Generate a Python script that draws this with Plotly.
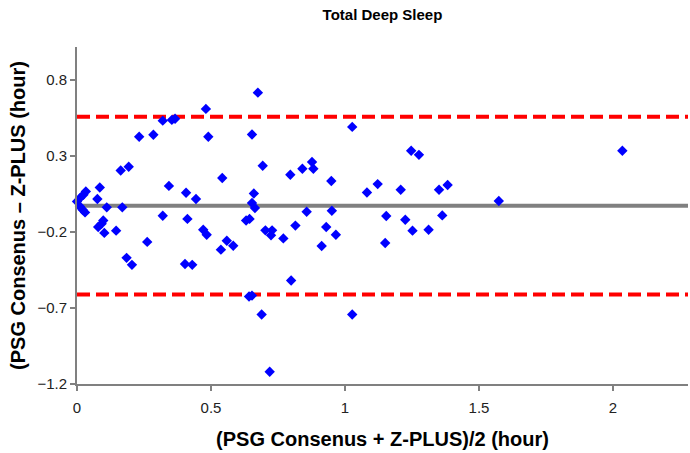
import plotly.graph_objects as go

# Bland-Altman data: mean of methods (x) and difference (y), hours
mean_vals = [0.000, 0.011, 0.024, 0.033, 0.011, 0.021, 0.030,
             0.085, 0.076, 0.111, 0.169, 0.163, 0.193, 0.232, 0.285,
             0.320, 0.354, 0.366, 0.481, 0.490, 0.542, 0.343, 0.407,
             0.444, 0.320, 0.412, 0.079, 0.092, 0.098, 0.102, 0.146,
             0.262, 0.185, 0.205, 0.403, 0.430, 0.471, 0.484, 0.559,
             0.537, 0.583, 0.631, 0.644, 0.642, 0.653,
             0.675, 0.653, 1.027, 0.693, 0.796, 0.841, 0.877, 0.882,
             0.949, 1.247, 1.276, 0.660, 0.653, 0.664, 1.082, 1.122,
             1.208, 0.857, 0.951, 1.154, 1.225, 1.252, 0.703, 0.728,
             0.724, 0.770, 0.815, 0.930, 0.966, 0.913, 1.150, 0.799,
             0.689, 1.027, 0.719,
             2.035, 1.351, 1.383, 1.574, 1.363, 1.312]
diff_vals = [0.000, 0.022, 0.044, 0.066, -0.033, -0.054, -0.072,
             0.092, 0.016, -0.039, -0.039, 0.203, 0.228, 0.425, 0.438,
             0.531, 0.536, 0.543, 0.608, 0.425, 0.154, 0.102, 0.057,
             0.016, -0.094, -0.115, -0.168, -0.146, -0.125, -0.207, -0.192,
             -0.266, -0.371, -0.417, -0.411, -0.417, -0.186, -0.219, -0.258,
             -0.317, -0.291, -0.125, -0.115, -0.625, -0.619,
             0.715, 0.440, 0.490, 0.234, 0.175, 0.215, 0.259, 0.215,
             0.134, 0.333, 0.306, 0.052, -0.010, -0.043, 0.059, 0.114,
             0.077, -0.068, -0.061, -0.096, -0.120, -0.192, -0.190, -0.190,
             -0.223, -0.243, -0.159, -0.168, -0.219, -0.293, -0.273, -0.520,
             -0.743, -0.743, -1.119,
             0.333, 0.077, 0.108, 0.003, -0.092, -0.186]

mean_diff = -0.028
loa_upper = 0.556
loa_lower = -0.612

x_ticks = [0, 0.5, 1, 1.5, 2]
x_tick_labels = ["0", "0.5", "1", "1.5", "2"]
y_ticks = [0.8, 0.3, -0.2, -0.7, -1.2]
y_tick_labels = ["0.8", "0.3", "\u22120.2", "\u22120.7", "\u22121.2"]

fig = go.Figure()
fig.add_trace(go.Scatter(
    x=mean_vals, y=diff_vals, mode="markers",
    marker=dict(symbol="diamond", size=8, color="#0000FF", line=dict(width=0)),
    showlegend=False, cliponaxis=False))

fig.add_shape(type="line", xref="paper", yref="y", x0=0, x1=1,
              y0=mean_diff, y1=mean_diff, line=dict(color="#808080", width=4),
              layer="below")
for v in (loa_upper, loa_lower):
    fig.add_shape(type="line", xref="paper", yref="y", x0=0, x1=1,
                  y0=v, y1=v, line=dict(color="#FF0000", width=4, dash="13px,6px"),
                  layer="below")

font_family = "Liberation Sans, Arial, sans-serif"
fig.update_layout(
    width=690, height=453,
    margin=dict(l=77, r=2, t=47, b=69),
    paper_bgcolor="white", plot_bgcolor="white",
    font=dict(family=font_family, color="#222222", size=15),
    title=dict(text="<b>Total Deep Sleep</b>", x=0.5, xref="paper",
               y=1 - 15 / 453, yref="container", yanchor="middle",
               font=dict(size=15, color="#000000")),
    xaxis=dict(range=[0, 2.28], tickvals=x_ticks, ticktext=x_tick_labels,
               automargin=False,
               showgrid=False, zeroline=False, showline=True,
               linecolor="#808080", linewidth=2, ticks="outside",
               ticklen=5, tickcolor="#808080", tickwidth=2,
               ticklabelstandoff=4,
               tickfont=dict(size=15, color="#222222"),
               title=dict(text="<b>(PSG Consenus + Z-PLUS)/2 (hour)</b>",
                          font=dict(size=20, color="#000000"), standoff=17)),
    yaxis=dict(range=[-1.2, 1.015], tickvals=y_ticks, ticktext=y_tick_labels,
               automargin=False,
               showgrid=False, zeroline=False, showline=True,
               linecolor="#808080", linewidth=2, ticks="outside",
               ticklen=5, tickcolor="#808080", tickwidth=2,
               tickfont=dict(size=15, color="#222222"),
               title=dict(text="<b>(PSG Consenus \u2013 Z-PLUS (hour)</b>",
                          font=dict(size=20, color="#000000"), standoff=6)),
)

fig.write_html("out.html", config={"displayModeBar": False},
               post_script="document.body.style.margin='0px';document.body.style.overflow='hidden';")
